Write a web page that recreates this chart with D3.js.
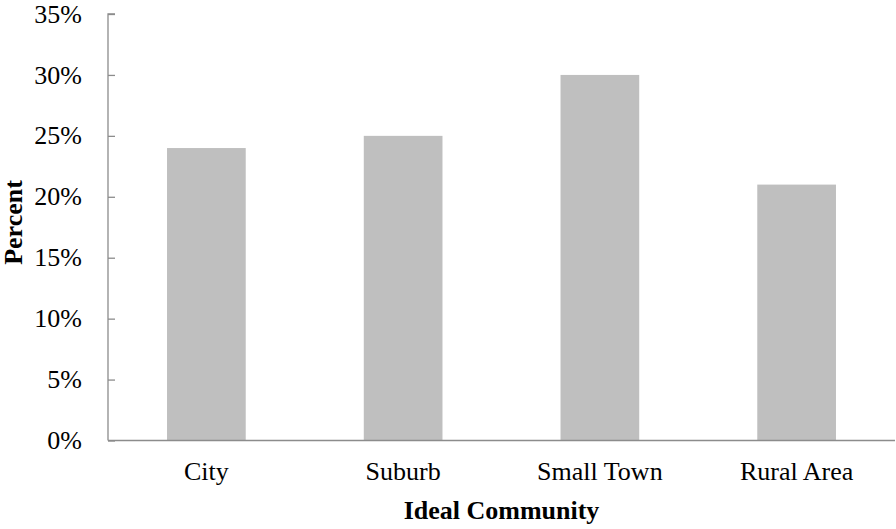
<!DOCTYPE html>
<html><head><meta charset="utf-8">
<script src="https://cdn.jsdelivr.net/npm/d3@7"></script>
<style>body{margin:0;background:#fff;} svg{display:block;}</style>
</head><body>
<svg id="chart" width="896" height="529"></svg>
<script>
const categories = ["City", "Suburb", "Small Town", "Rural Area"];
const values = [24, 25, 30, 21];
const yTicks = [0, 5, 10, 15, 20, 25, 30, 35];
const xTitle = "Ideal Community";
const yTitle = "Percent";

const svg = d3.select("#chart");
const mLeft = 108, mRight = 895, mTop = 14, mBottom = 440.5;
const font = "'Liberation Serif','Times New Roman',serif";
const fs = 26;

const x = d3.scaleBand().domain(categories).range([mLeft, mRight]).paddingInner(0.6).paddingOuter(0.3);
const y = d3.scaleLinear().domain([0, 35]).range([mBottom, mTop]);

svg.selectAll("rect.bar").data(values).enter().append("rect")
  .attr("class", "bar")
  .attr("x", (d, i) => x(categories[i]))
  .attr("y", d => y(d))
  .attr("width", x.bandwidth())
  .attr("height", d => y(0) - y(d))
  .attr("fill", "#bfbfbf");

// Y axis (inner ticks)
const yAxis = svg.append("g").attr("transform", `translate(${mLeft},0)`)
  .call(d3.axisRight(y).tickValues(yTicks).tickSize(7).tickFormat(""));
yAxis.select(".domain").attr("stroke", "#8c8c8c").attr("stroke-width", 1.3).attr("d", `M7,${mTop}H0V${mBottom}`);
yAxis.selectAll(".tick line").attr("stroke", "#8c8c8c").attr("stroke-width", 1.3);

svg.selectAll("text.ytick").data(yTicks).enter().append("text")
  .attr("class", "ytick")
  .attr("x", 82).attr("y", d => y(d))
  .attr("dy", "0.33em").attr("text-anchor", "end")
  .attr("font-family", font).attr("font-size", fs).attr("fill", "#000")
  .text(d => d + "%");

// X axis
const xAxis = svg.append("g").attr("transform", `translate(0,${mBottom})`)
  .call(d3.axisBottom(x).tickSize(0).tickPadding(0));
xAxis.select(".domain").attr("stroke", "#8c8c8c").attr("stroke-width", 1.3).attr("d", `M${mLeft},0H${mRight}`);
xAxis.selectAll(".tick text").remove();

svg.selectAll("text.xtick").data(categories).enter().append("text")
  .attr("class", "xtick")
  .attr("x", d => x(d) + x.bandwidth() / 2).attr("y", 480)
  .attr("text-anchor", "middle")
  .attr("font-family", font).attr("font-size", fs).attr("fill", "#000")
  .text(d => d);

svg.append("text")
  .attr("x", 501.5).attr("y", 519)
  .attr("text-anchor", "middle")
  .attr("font-family", font).attr("font-size", fs).attr("font-weight", "bold")
  .text(xTitle);

svg.append("text")
  .attr("transform", `translate(22,222.5) rotate(-90)`)
  .attr("text-anchor", "middle")
  .attr("font-family", font).attr("font-size", fs).attr("font-weight", "bold")
  .text(yTitle);
</script>
</body></html>
